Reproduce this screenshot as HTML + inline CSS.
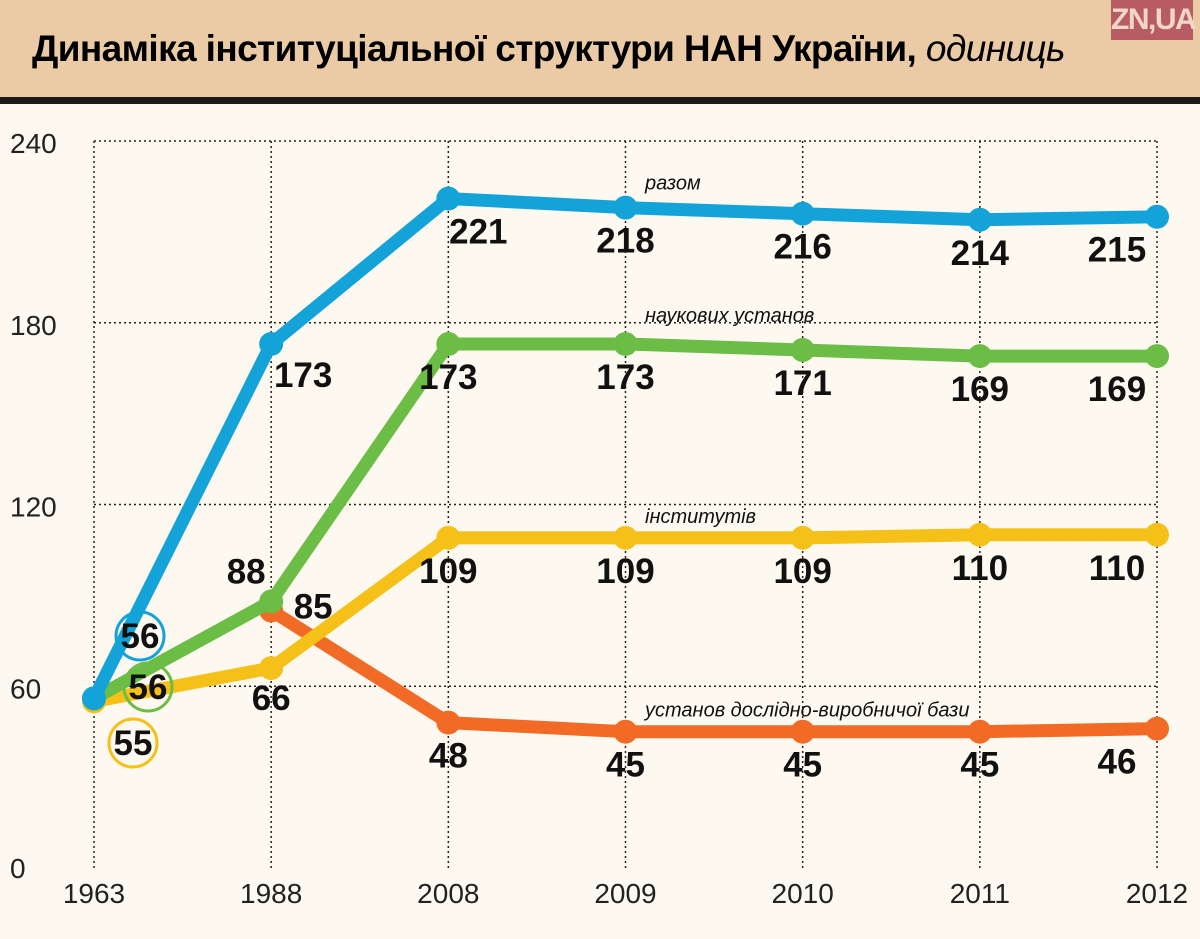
<!DOCTYPE html>
<html><head><meta charset="utf-8"><style>
body{margin:0;width:1200px;height:939px;background:#fdf9f0;overflow:hidden;font-family:"Liberation Sans","DejaVu Sans",sans-serif}
#hdr{position:absolute;left:0;top:0;width:1200px;height:97px;background:#eacba6;border-bottom:7px solid #1a1a1a}
#title{position:absolute;left:32px;top:28px;font-size:37px;font-weight:bold;letter-spacing:-0.6px;color:#000}
#title i{font-weight:normal}
#logo{position:absolute;left:1111px;top:0;width:82px;height:40px;background:#b85c63;color:#f3d6c8;font-weight:bold;font-size:30px;text-align:center;line-height:40px;letter-spacing:-1.5px}
</style></head><body>
<div id="hdr">
<div id="title">Динаміка інституціальної структури НАН України, <i>одиниць</i></div>
<div id="logo">ZN,UA</div>
</div>
<svg id="chart" width="1200" height="939" style="position:absolute;left:0;top:0"></svg>
<script>
const years=["1963","1988","2008","2009","2010","2011","2012"];
const yTicks=[0,60,120,180,240];
const totalVals=[56,173,221,218,216,214,215];
const scienceVals=[56,88,173,173,171,169,169];
const instVals=[55,66,109,109,109,110,110];
const prodVals=[null,85,48,45,45,45,46];
const seriesNames=["разом","наукових установ","інститутів","установ дослідно-виробничої бази"];
const NS="http://www.w3.org/2000/svg";
const svg=document.getElementById('chart');
const x0=94,x1=1157,yb=868,yt=141;
const xs=i=>x0+i*(x1-x0)/(years.length-1);
const ys=v=>yb-v*(yb-yt)/240;
function mk(t,a){const e=document.createElementNS(NS,t);for(const k in a)e.setAttribute(k,a[k]);svg.appendChild(e);return e;}
yTicks.forEach((t,i)=>{
 if(t>0){const l=mk('line',{x1:x0,x2:x1,y1:ys(t),y2:ys(t),stroke:'#222','stroke-width':1.5,'stroke-dasharray':'2,3'});
 }
 const tx=mk('text',{x:10,y:ys(t)+(t==0?10:12),'font-size':28,fill:'#222'});tx.textContent=t;
 
});
years.forEach((y,i)=>{
 const l=mk('line',{x1:xs(i),x2:xs(i),y1:yt,y2:yb,stroke:'#222','stroke-width':1.5,'stroke-dasharray':'2,3'});
 
 const tx=mk('text',{x:xs(i),y:903,'font-size':28,fill:'#222','text-anchor':'middle'});tx.textContent=y;
 
});
const series=[
 {vals:prodVals,color:'#f26b26',name:'prod',lab:3},
 {vals:instVals,color:'#f5c018',name:'institutes',lab:2},
 {vals:scienceVals,color:'#6cbd45',name:'science',lab:1},
 {vals:totalVals,color:'#14a3d8',name:'total',lab:0}
];
const nameY={total:-18,science:-22,institutes:-15,prod:-15};
series.forEach(s=>{
 const pts=[];s.vals.forEach((v,i)=>{if(v!=null)pts.push([xs(i),ys(v),i,v]);});
 const p=mk('polyline',{points:pts.map(p=>p[0]+','+p[1]).join(' '),fill:'none',stroke:s.color,'stroke-width':13,'stroke-linejoin':'round'});
 
 pts.forEach(p=>{
  const c=mk('circle',{cx:p[0],cy:p[1],r:12,fill:s.color});
  
  if(p[2]==0)return;
  let lx=p[0],ly=p[1]+45,anc='middle';
  if(p[2]==years.length-1)lx=p[0]-40;
  if(p[2]==2&&s.name=='total')lx=p[0]+30;
  if(p[2]==1){
   if(s.name=='total'){lx=p[0]+32;ly=p[1]+43;}
   if(s.name=='science'){lx=p[0]-25;ly=p[1]-18;}
   if(s.name=='prod'){lx=p[0]+42;ly=p[1]+8;}
   if(s.name=='institutes'){ly=p[1]+42;}
  }
  const t=mk('text',{x:lx,y:ly,'font-size':35,'font-weight':'bold',fill:'#111','text-anchor':anc});t.textContent=p[3];
  
 });
 const last=s.vals[3];
 const n=mk('text',{x:645,y:ys(last)+nameY[s.name],'font-size':20,'font-style':'italic',fill:'#111'});n.textContent=seriesNames[s.lab];
 
});
[[totalVals[0],'#14a3d8',140,636,'total'],[scienceVals[0],'#6cbd45',148,687,'science'],[instVals[0],'#f5c018',133,743,'institutes']].forEach(a=>{
 const c=mk('circle',{cx:a[2],cy:a[3],r:24,fill:'none',stroke:a[1],'stroke-width':3});
 
 const t=mk('text',{x:a[2],y:a[3]+12,'font-size':35,'font-weight':'bold',fill:'#111','text-anchor':'middle'});t.textContent=a[0];
 
});
</script>
</body></html>
